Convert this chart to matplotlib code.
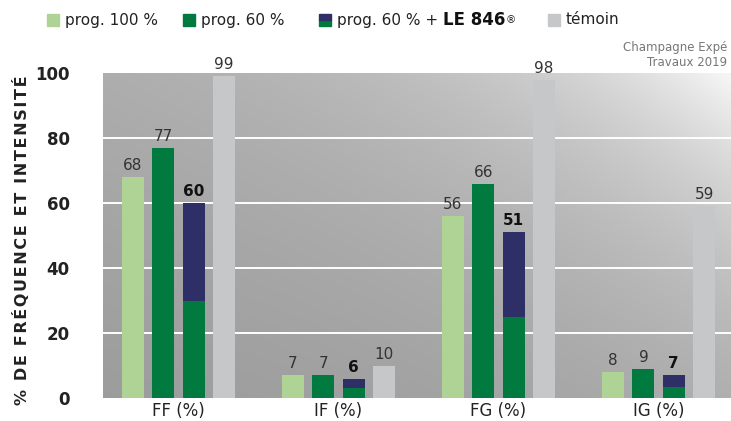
import matplotlib
matplotlib.use("Agg")
import matplotlib.pyplot as plt
import numpy as np
from matplotlib.patches import Rectangle

plt.rcParams["font.family"] = ["DejaVu Sans"]

# Données
categories = ["FF (%)", "IF (%)", "FG (%)", "IG (%)"]
prog100 = [68, 7, 56, 8]
prog60 = [77, 7, 66, 9]
prog60_le = [60, 6, 51, 7]
prog60_le_base = [30, 3, 25, 3.5]  # partie verte de la barre empilée
temoin = [99, 10, 98, 59]
yticks = [0, 20, 40, 60, 80, 100]

# Couleurs
c_light = "#aed394"
c_green = "#007a3e"
c_navy = "#2d2f66"
c_gray = "#c6c7c9"
c_text = "#222222"

fig = plt.figure(figsize=(7.31, 4.21), dpi=100)
ax = fig.add_axes([103 / 731, 23 / 421, 628 / 731, 325 / 421])

# Fond en dégradé gris (plus clair vers le coin haut-droit)
xn, yn = np.meshgrid(np.linspace(0, 1, 300), np.linspace(0, 1, 200))
v = 0.61 + 0.05 * yn + 0.02 * xn + 0.29 * np.exp(-(1 - xn) * 2.6 - (1 - yn) * 1.6)
v = np.clip(v, 0, 0.96)
ax.imshow(np.dstack([v, v, v]), extent=[0, 1, 0, 1], transform=ax.transAxes,
          origin="lower", aspect="auto", zorder=0, interpolation="bilinear")

x = np.arange(len(categories))
w = 0.1375
off = [-0.285, -0.094, 0.094, 0.285]

ax.bar(x + off[0], prog100, w, color=c_light, zorder=3)
ax.bar(x + off[1], prog60, w, color=c_green, zorder=3)
ax.bar(x + off[2], prog60_le_base, w, color=c_green, zorder=3)
ax.bar(x + off[2], np.array(prog60_le) - np.array(prog60_le_base), w,
       bottom=prog60_le_base, color=c_navy, zorder=3)
ax.bar(x + off[3], temoin, w, color=c_gray, zorder=3)

# Étiquettes de valeurs
for i in range(len(categories)):
    for serie, k in [(prog100, 0), (prog60, 1), (temoin, 3)]:
        ax.text(x[i] + off[k], serie[i] + 1.2, str(serie[i]), ha="center", va="bottom",
                fontsize=11, color="#333333", zorder=5, clip_on=False)
    ax.text(x[i] + off[2], prog60_le[i] + 1.2, str(prog60_le[i]), ha="center", va="bottom",
            fontsize=11, fontweight="bold", color="#111111", zorder=5, clip_on=False)

ax.set_xlim(-0.472, 3.453)
ax.set_ylim(0, 100)
ax.set_yticks(yticks)
ax.set_yticklabels([str(t) for t in yticks], fontsize=12, fontweight="bold", color=c_text)
ax.set_xticks(x)
ax.set_xticklabels(categories, fontsize=12, color=c_text)
ax.tick_params(axis="y", length=0, pad=24)
ax.tick_params(axis="x", length=0, pad=3)
for t in yticks[1:-1]:
    ax.axhline(t, color="white", linewidth=1.4, zorder=1)
for s in ax.spines.values():
    s.set_visible(False)

# titre de l'axe y, lettres espacées
ylab = "\u200a".join("% DE FRÉQUENCE ET INTENSITÉ")
ax.set_ylabel(ylab, fontsize=11.5, fontweight="bold", color=c_text, labelpad=0)
ax.yaxis.set_label_coords(-0.116, 0.486)

# Légende dessinée à la main
fig.canvas.draw()
r = fig.canvas.get_renderer()
ly = 1 - 20 / 421

def carre(x0, couleurs):
    h = 12 / len(couleurs)
    for k, c in enumerate(couleurs):
        fig.add_artist(Rectangle((x0 / 731, (421 - 26 + k * h) / 421), 12 / 731, h / 421,
                                 color=c, transform=fig.transFigure))

def suite(t, s, **kw):
    # place un texte juste après le précédent
    x1 = t.get_window_extent(r).x1 / 731
    return fig.text(x1, ly, s, va="center", **kw)

carre(47, [c_light])
fig.text(65 / 731, ly, "prog. 100 %", fontsize=11, va="center", color=c_text)
carre(183, [c_green])
fig.text(201 / 731, ly, "prog. 60 %", fontsize=11, va="center", color=c_text)
carre(319, [c_green, c_navy])
t = fig.text(337 / 731, ly, "prog. 60 % + ", fontsize=11, va="center", color=c_text)
t = suite(t, "LE 846", fontsize=12, fontweight="bold", color="#111111")
suite(t, "®", fontsize=7.5, color=c_text)
carre(548, [c_gray])
fig.text(566 / 731, ly, "témoin", fontsize=11, va="center", color=c_text)

fig.text(727 / 731, 1 - 48 / 421, "Champagne Expé", fontsize=8.5, ha="right", va="center", color="#777777")
fig.text(727 / 731, 1 - 63 / 421, "Travaux 2019", fontsize=8.5, ha="right", va="center", color="#777777")

fig.savefig("out.png", dpi=100)
